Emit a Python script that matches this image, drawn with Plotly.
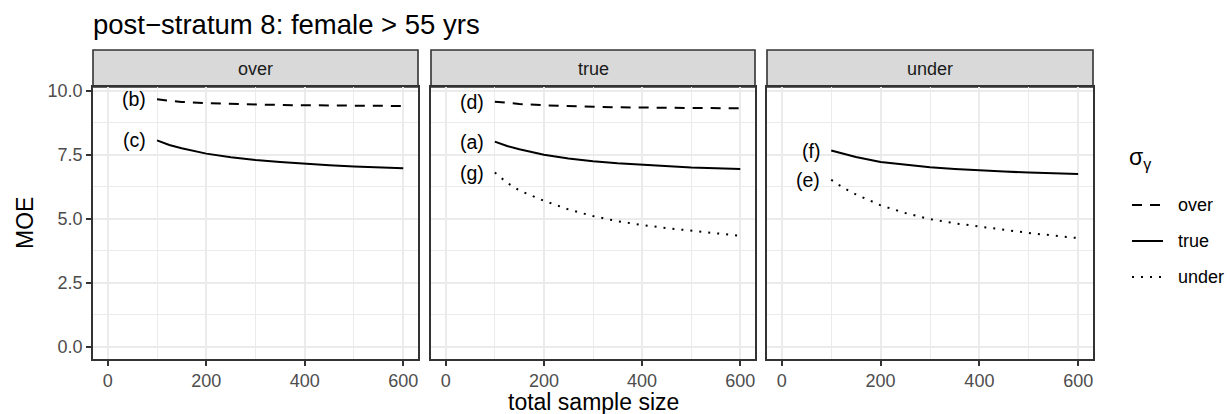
import plotly.graph_objects as go

# ---- data -------------------------------------------------------------
sample_size = [100, 125, 150, 200, 250, 300, 350, 400, 450, 500, 550, 600]

facets = ["over", "true", "under"]
sigma_levels = ["over", "true", "under"]

# MOE by facet (assumed sigma for the design) and sigma_gamma level
moe_over_over = [9.66, 9.60, 9.56, 9.51, 9.48, 9.46, 9.44, 9.43, 9.42, 9.41, 9.40, 9.40]
moe_over_true = [8.06, 7.88, 7.75, 7.54, 7.40, 7.29, 7.21, 7.14, 7.09, 7.04, 7.00, 6.97]

moe_true_over = [9.57, 9.52, 9.48, 9.43, 9.40, 9.37, 9.35, 9.34, 9.33, 9.32, 9.31, 9.31]
moe_true_true = [8.01, 7.84, 7.71, 7.50, 7.35, 7.24, 7.16, 7.10, 7.05, 7.00, 6.97, 6.94]
moe_true_under = [6.80, 6.40, 6.10, 5.70, 5.36, 5.10, 4.90, 4.75, 4.63, 4.53, 4.43, 4.33]

moe_under_true = [7.66, 7.52, 7.41, 7.21, 7.10, 7.01, 6.94, 6.88, 6.84, 6.80, 6.77, 6.74]
moe_under_under = [6.52, 6.20, 5.95, 5.52, 5.22, 4.98, 4.82, 4.69, 4.56, 4.44, 4.34, 4.24]

series = [
    # facet, sigma level, values, curve label
    ("over", "over", moe_over_over, "(b)"),
    ("over", "true", moe_over_true, "(c)"),
    ("true", "over", moe_true_over, "(d)"),
    ("true", "true", moe_true_true, "(a)"),
    ("true", "under", moe_true_under, "(g)"),
    ("under", "true", moe_under_true, "(f)"),
    ("under", "under", moe_under_under, "(e)"),
]

x_ticks = [0, 200, 400, 600]
y_ticks = [0.0, 2.5, 5.0, 7.5, 10.0]
y_tick_text = ["0.0", "2.5", "5.0", "7.5", "10.0"]

# ---- styling ------------------------------------------------------------
FONT = "Liberation Sans, Arial, sans-serif"
DASH = {"over": "10px,8px", "true": "solid", "under": "2px,7px"}
BORDER = "#333333"
GRID = "#EBEBEB"
TICK_SIZE = 18
TITLE_SIZE = 23

W, H = 1230, 414
M_L, M_R, M_T, M_B = 93, 137, 50, 55
PW = W - M_L - M_R
PH = H - M_T - M_B
panel_px = [(93, 418), (431, 755), (767, 1093)]
domains = [[(a - M_L) / PW, (b - M_L) / PW] for a, b in panel_px]
strip_h = 37
y_top = (PH - strip_h) / PH


def px_x(px):
    return (px - M_L) / PW


def px_y(py):
    return (H - M_B - py) / PH


ymax = max(max(v) for _, _, v, _ in series)
y_range = [0 - 0.05 * ymax, ymax * 1.05]
xmin, xmax = 0, max(sample_size)
x_range = [xmin - 0.05 * (xmax - xmin), xmax + 0.05 * (xmax - xmin)]

fig = go.Figure()
annotations = []
shapes = []

for facet, level, vals, lab in series:
    k = facets.index(facet)
    xa = "x" if k == 0 else f"x{k + 1}"
    ya = "y" if k == 0 else f"y{k + 1}"
    fig.add_trace(go.Scatter(
        x=sample_size, y=vals, mode="lines", xaxis=xa, yaxis=ya,
        line=dict(color="black", width=2, dash=DASH[level]),
        showlegend=False, hoverinfo="skip",
    ))
    annotations.append(dict(
        x=sample_size[0], y=vals[0], xref=xa, yref=ya, text=lab,
        showarrow=False, xanchor="right", yanchor="middle", xshift=-9,
        font=dict(family=FONT, size=19.5, color="black"),
    ))

layout = dict(
    width=W, height=H,
    margin=dict(l=M_L, r=M_R, t=M_T, b=M_B),
    paper_bgcolor="white", plot_bgcolor="white",
    showlegend=False,
    font=dict(family=FONT, color="#4D4D4D"),
)

for k, facet in enumerate(facets):
    sfx = "" if k == 0 else str(k + 1)
    layout[f"xaxis{sfx}"] = dict(
        domain=domains[k], range=x_range, anchor=f"y{sfx}",
        tickmode="array", tickvals=x_ticks,
        ticks="outside", ticklen=5, tickwidth=1.6, tickcolor=BORDER,
        tickfont=dict(family=FONT, size=TICK_SIZE, color="#4D4D4D"),
        showgrid=True, gridcolor=GRID, gridwidth=1.8,
        minor=dict(tickmode="array", tickvals=[100, 300, 500],
                   showgrid=True, gridcolor=GRID, gridwidth=0.9, ticks=""),
        showline=True, linecolor=BORDER, linewidth=1.6, mirror=True,
        zeroline=False,
    )
    layout[f"yaxis{sfx}"] = dict(
        domain=[0, y_top], range=y_range, anchor=f"x{sfx}",
        tickmode="array", tickvals=y_ticks, ticktext=y_tick_text,
        ticks="outside" if k == 0 else "", ticklen=5, tickwidth=1.6,
        tickcolor=BORDER, showticklabels=(k == 0),
        tickfont=dict(family=FONT, size=TICK_SIZE, color="#4D4D4D"),
        showgrid=True, gridcolor=GRID, gridwidth=1.8,
        minor=dict(tickmode="array", tickvals=[1.25, 3.75, 6.25, 8.75],
                   showgrid=True, gridcolor=GRID, gridwidth=0.9, ticks=""),
        showline=True, linecolor=BORDER, linewidth=1.6, mirror=True,
        zeroline=False,
    )
    if k > 0:
        layout[f"yaxis{sfx}"]["matches"] = "y"
    # facet strip
    shapes.append(dict(
        type="rect", xref="paper", yref="paper",
        x0=domains[k][0], x1=domains[k][1], y0=y_top, y1=1.0,
        fillcolor="#D9D9D9", line=dict(color=BORDER, width=1.6), layer="below",
    ))
    annotations.append(dict(
        x=(domains[k][0] + domains[k][1]) / 2, y=(y_top + 1) / 2,
        xref="paper", yref="paper", text=facet, showarrow=False,
        xanchor="center", yanchor="middle",
        font=dict(family=FONT, size=TICK_SIZE, color="#1A1A1A"),
    ))

# title and axis titles
annotations.append(dict(
    x=0, y=1, xref="paper", yref="paper", xanchor="left", yanchor="bottom",
    yshift=8, xshift=-2, text="post\u2212stratum 8: female > 55 yrs",
    showarrow=False, font=dict(family=FONT, size=27.5, color="black"),
))
annotations.append(dict(
    x=0.5, y=px_y(402), xref="paper", yref="paper", xanchor="center",
    yanchor="middle", text="total sample size", showarrow=False,
    font=dict(family=FONT, size=TITLE_SIZE, color="black"),
))
annotations.append(dict(
    x=px_x(25), y=px_y(223), xref="paper", yref="paper", xanchor="center",
    yanchor="middle", text="MOE", textangle=-90, showarrow=False,
    font=dict(family=FONT, size=TITLE_SIZE, color="black"),
))

# legend for sigma_gamma
annotations.append(dict(
    x=px_x(1127), y=px_y(158), xref="paper", yref="paper", xanchor="left",
    yanchor="middle", text="\u03c3<sub>\u03b3</sub>", showarrow=False,
    font=dict(family=FONT, size=TITLE_SIZE, color="black"),
))
legend_y = [205, 241, 277]
for level, py in zip(sigma_levels, legend_y):
    shapes.append(dict(
        type="line", xref="paper", yref="paper",
        x0=px_x(1132), x1=px_x(1163), y0=px_y(py), y1=px_y(py),
        line=dict(color="black", width=2, dash=DASH[level]),
    ))
    annotations.append(dict(
        x=px_x(1176), y=px_y(py), xref="paper", yref="paper",
        xanchor="left", yanchor="middle", text=level, showarrow=False,
        font=dict(family=FONT, size=TICK_SIZE, color="black"),
    ))

layout["shapes"] = shapes
layout["annotations"] = annotations
fig.update_layout(**layout)
fig.write_html("out.html")
